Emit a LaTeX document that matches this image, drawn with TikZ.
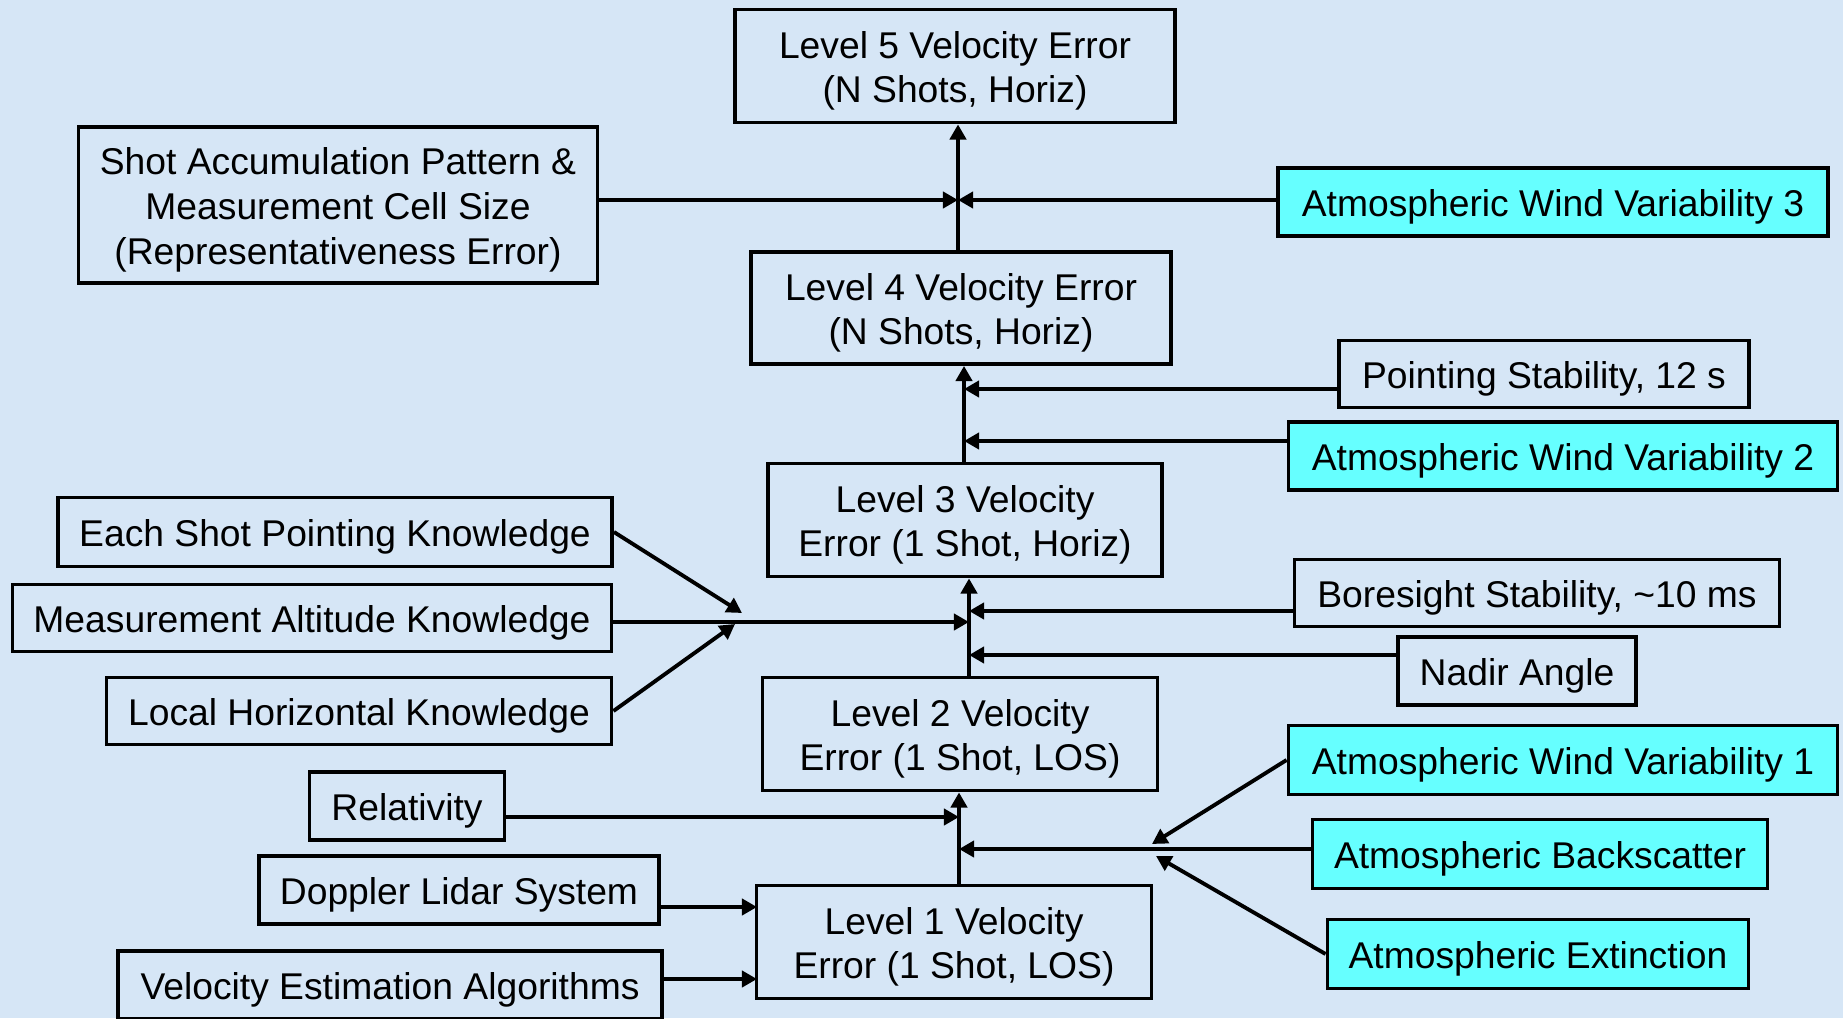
\documentclass[tikz,border=0pt]{standalone}
\usepackage{fontspec}
\setmainfont{Liberation Sans}
\usetikzlibrary{arrows.meta}

\definecolor{paleblue}{RGB}{214,230,246}
\definecolor{atmcyan}{RGB}{102,255,255}

\tikzset{
  errbox/.style={draw, line width=1.1pt, align=center, inner sep=0pt,
    text height=10.5pt, font=\fontsize{10.6}{12.7}\selectfont},
  levelbox/.style={errbox, text height=23.2pt},
  atmbox/.style={errbox, fill=atmcyan},
  feed/.style={line width=1.1pt, -{Triangle[length=4.3pt,width=4.6pt]}}
}

\begin{document}
\begin{tikzpicture}[x=0.1mm,y=-0.1mm]
      \fill[paleblue] (0,0) rectangle (1843,1018);
      \useasboundingbox (0,0) rectangle (1843,1018);

      % Vertices
      \node[levelbox, minimum width=44mm, minimum height=11.3mm] (L5) at (955,66) {Level 5 Velocity Error\\(N Shots, Horiz)};
      \node[levelbox, minimum width=42mm, minimum height=11.2mm] (L4) at (961,308) {Level 4 Velocity Error\\(N Shots, Horiz)};
      \node[levelbox, minimum width=39.4mm, minimum height=11.3mm] (L3) at (965,520) {Level 3 Velocity\\Error (1 Shot, Horiz)};
      \node[levelbox, minimum width=39.5mm, minimum height=11.3mm] (L2) at (960,734) {Level 2 Velocity\\Error (1 Shot, LOS)};
      \node[levelbox, minimum width=39.5mm, minimum height=11.3mm] (L1) at (954,942) {Level 1 Velocity\\Error (1 Shot, LOS)};

      \node[errbox, text height=35.9pt, minimum width=51.9mm, minimum height=15.6mm] (shotacc) at (338,205) {Shot Accumulation Pattern \&\\Measurement Cell Size\\(Representativeness Error)};
      \node[errbox, minimum width=55.4mm, minimum height=6.9mm] (eachshot) at (335,532) {Each Shot Pointing Knowledge};
      \node[errbox, minimum width=59.9mm, minimum height=6.7mm] (measalt) at (312,618) {Measurement Altitude Knowledge};
      \node[errbox, minimum width=50.5mm, minimum height=6.7mm] (localhor) at (359,711) {Local Horizontal Knowledge};
      \node[errbox, minimum width=19.5mm, minimum height=6.8mm] (relat) at (407,806) {Relativity};
      \node[errbox, minimum width=40mm, minimum height=6.8mm] (doppler) at (459,890) {Doppler Lidar System};
      \node[errbox, minimum width=54.4mm, minimum height=6.8mm] (velest) at (390,985) {Velocity Estimation Algorithms};

      \node[atmbox, minimum width=55mm, minimum height=6.8mm] (awv3) at (1553,202) {Atmospheric Wind Variability 3};
      \node[errbox, minimum width=41mm, minimum height=6.7mm] (pointstab) at (1544,374) {Pointing Stability, 12 s};
      \node[atmbox, minimum width=54.9mm, minimum height=6.8mm] (awv2) at (1563,456) {Atmospheric Wind Variability 2};
      \node[errbox, minimum width=48.5mm, minimum height=6.7mm] (borestab) at (1537,593) {Boresight Stability, \textasciitilde10 ms};
      \node[errbox, minimum width=23.8mm, minimum height=6.8mm] (nadir) at (1517,671) {Nadir Angle};
      \node[atmbox, minimum width=54.9mm, minimum height=6.9mm] (awv1) at (1563,760) {Atmospheric Wind Variability 1};
      \node[atmbox, minimum width=45.5mm, minimum height=6.9mm] (backsc) at (1540,854) {Atmospheric Backscatter};
      \node[atmbox, minimum width=42.1mm, minimum height=6.9mm] (extinc) at (1538,954) {Atmospheric Extinction};

      % Junctions
      \coordinate (j5) at (958,200);
      \coordinate (j4a) at (964,389);
      \coordinate (j4b) at (964,441);
      \coordinate (j3a) at (969,611);
      \coordinate (j3b) at (969,622);
      \coordinate (j3c) at (969,655);
      \coordinate (t3a) at (742,613);
      \coordinate (t3b) at (735,624);
      \coordinate (j2a) at (959,817);
      \coordinate (j2b) at (959,849);
      \coordinate (t2a) at (1152,844);
      \coordinate (t2b) at (1156,856);
      \coordinate (j1a) at (757,907);
      \coordinate (j1b) at (757,979);

      % Edges
      \draw[feed] (L4.north -| j5) -- (L5.south -| j5);
      \draw[feed] (shotacc.east |- j5) -- (j5);
      \draw[feed] (awv3.west |- j5) -- (j5);

      \draw[feed] (L3.north -| j4a) -- (L4.south -| j4a);
      \draw[feed] (pointstab.west |- j4a) -- (j4a);
      \draw[feed] (awv2.west |- j4b) -- (j4b);

      \draw[feed] (L2.north -| j3a) -- (L3.south -| j3a);
      \draw[feed] (borestab.west |- j3a) -- (j3a);
      \draw[feed] (nadir.west |- j3c) -- (j3c);
      \draw[feed] (measalt.east |- j3b) -- (j3b);
      \draw[feed] (eachshot.east) -- (t3a);
      \draw[feed] (localhor.east) -- (t3b);

      \draw[feed] (L1.north -| j2a) -- (L2.south -| j2a);
      \draw[feed] (relat.east |- j2a) -- (j2a);
      \draw[feed] (backsc.west |- j2b) -- (j2b);
      \draw[feed] (awv1.west) -- (t2a);
      \draw[feed] (extinc.west) -- (t2b);

      \draw[feed] (doppler.east |- j1a) -- (j1a);
      \draw[feed] (velest.east |- j1b) -- (j1b);
\end{tikzpicture}
\end{document}
